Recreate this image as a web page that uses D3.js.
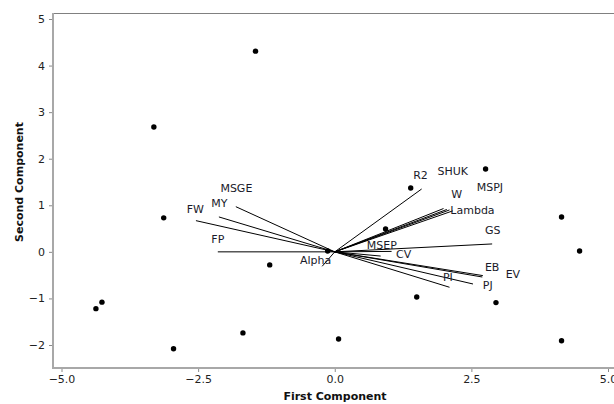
<!DOCTYPE html>
<html>
<head>
<meta charset="utf-8">
<script src="https://cdn.jsdelivr.net/npm/d3@7"></script>
<style>
  body { margin: 0; background: #fff; }
  text { font-family: "DejaVu Sans", Verdana, sans-serif; }
</style>
</head>
<body>
<div id="chart-area"></div>
<script>
// score points (first, second component)
var scoreX = [-1.45, -3.31, -3.13, -4.26, -4.37, -2.95, -1.68, -1.19, 0.07, 0.93, 1.39, 2.76, 1.50, 2.95, 4.15, 4.48, 4.15, -0.13];
var scoreY = [4.31, 2.68, 0.73, -1.08, -1.22, -2.08, -1.74, -0.28, -1.87, 0.49, 1.37, 1.78, -0.97, -1.09, 0.75, 0.02, -1.91, 0.02];

// loading vectors
var varNames = ["MSGE", "MY", "FW", "FP", "Alpha", "MSEP", "CV", "R2", "SHUK", "MSPJ", "W", "Lambda", "GS", "EB", "EV", "PJ", "PI"];
var loadX = [-1.81, -2.12, -2.54, -2.14, -0.23, 1.04, 0.84, 1.59, 2.05, 2.10, 1.99, 2.16, 2.88, 2.71, 2.70, 2.53, 2.10];
var loadY = [0.97, 0.75, 0.67, 0.00, -0.31, 0.01, -0.09, 1.35, 0.91, 0.90, 0.93, 0.88, 0.17, -0.51, -0.54, -0.69, -0.76];
// where each label sits (chart units)
var labelX = [-1.80, -2.11, -2.55, -2.14, -0.35, 0.86, 1.26, 1.57, 2.16, 2.84, 2.23, 2.52, 2.89, 2.88, 3.26, 2.80, 2.07];
var labelY = [1.35, 1.03, 0.91, 0.26, -0.19, 0.13, -0.06, 1.63, 1.72, 1.39, 1.23, 0.88, 0.45, -0.33, -0.49, -0.72, -0.56];

var xTicks = [-5, -2.5, 0, 2.5, 5];
var yTicks = [-2, -1, 0, 1, 2, 3, 4, 5];

var width = 614, height = 404;
var plot = {left: 53, top: 13, right: 616, bottom: 368};

var svg = d3.select("#chart-area")
  .append("svg")
  .attr("width", width)
  .attr("height", height);

var xScale = d3.scaleLinear().domain([-5, 5]).range([61.5, 608]);
var yScale = d3.scaleLinear().domain([-2, 5]).range([345, 19]);

// axes
var xAxis = d3.axisBottom(xScale).tickValues(xTicks).tickFormat(d3.format(".1f")).tickSize(4).tickPadding(3);
var yAxis = d3.axisLeft(yScale).tickValues(yTicks).tickFormat(d3.format("d")).tickSize(4).tickPadding(4);

var gx = svg.append("g")
  .attr("transform", "translate(0," + plot.bottom + ")")
  .call(xAxis);
var gy = svg.append("g")
  .attr("transform", "translate(" + plot.left + ",0)")
  .call(yAxis);

[gx, gy].forEach(function(g) {
  g.select(".domain").remove();
  g.selectAll(".tick line").attr("stroke", "#8a8a8a");
  g.selectAll(".tick text")
    .attr("fill", "#222")
    .style("font-size", "11px")
    .style("font-family", "'DejaVu Sans', Verdana, sans-serif");
});

// frame
svg.append("line")
  .attr("x1", plot.left).attr("x2", plot.right)
  .attr("y1", plot.top + 0.5).attr("y2", plot.top + 0.5)
  .attr("stroke", "#808080").attr("stroke-width", 1);
svg.append("line")
  .attr("x1", plot.left).attr("x2", plot.left)
  .attr("y1", plot.top).attr("y2", plot.bottom + 1)
  .attr("stroke", "#a8a8a8").attr("stroke-width", 2);
svg.append("line")
  .attr("x1", plot.left).attr("x2", plot.right)
  .attr("y1", plot.bottom).attr("y2", plot.bottom)
  .attr("stroke", "#a8a8a8").attr("stroke-width", 2);

// axis titles
svg.append("text")
  .attr("x", 335)
  .attr("y", 400)
  .attr("text-anchor", "middle")
  .style("font-size", "11px")
  .style("font-weight", "bold")
  .attr("fill", "#111")
  .text("First Component");

svg.append("text")
  .attr("transform", "translate(23,182) rotate(-90)")
  .attr("text-anchor", "middle")
  .style("font-size", "11px")
  .style("font-weight", "bold")
  .attr("fill", "#111")
  .text("Second Component");

// loading rays
var rays = varNames.map(function(n, i) {
  return {name: n, x: loadX[i], y: loadY[i], lx: labelX[i], ly: labelY[i]};
});

svg.selectAll("line.ray")
  .data(rays)
  .enter()
  .append("line")
  .attr("class", "ray")
  .attr("x1", xScale(0))
  .attr("y1", yScale(0))
  .attr("x2", function(d) { return xScale(d.x); })
  .attr("y2", function(d) { return yScale(d.y); })
  .attr("stroke", "#000")
  .attr("stroke-width", 1);

// score points
var points = scoreX.map(function(x, i) { return {x: x, y: scoreY[i]}; });
svg.selectAll("circle")
  .data(points)
  .enter()
  .append("circle")
  .attr("cx", function(d) { return xScale(d.x); })
  .attr("cy", function(d) { return yScale(d.y); })
  .attr("r", 2.7)
  .attr("fill", "#000");

// ray labels
svg.selectAll("text.lbl")
  .data(rays)
  .enter()
  .append("text")
  .attr("class", "lbl")
  .attr("x", function(d) { return xScale(d.lx); })
  .attr("y", function(d) { return yScale(d.ly); })
  .attr("text-anchor", "middle")
  .attr("dominant-baseline", "central")
  .style("font-size", "11px")
  .attr("fill", "#1a1a2a")
  .text(function(d) { return d.name; });
</script>
</body>
</html>
